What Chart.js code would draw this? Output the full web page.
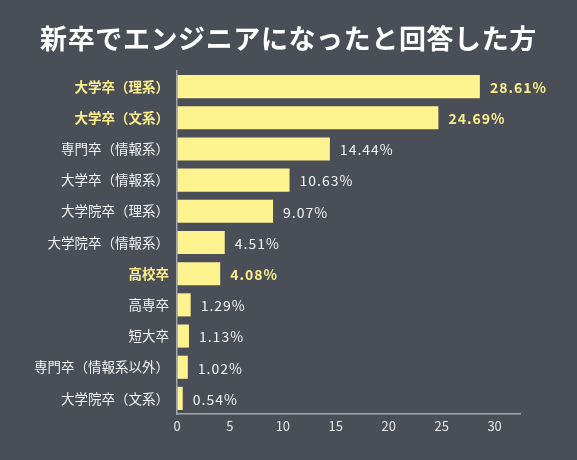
<!DOCTYPE html>
<html>
<head>
<meta charset="utf-8">
<script src="https://cdn.jsdelivr.net/npm/chart.js@4"></script>
<style>
  html, body { margin: 0; padding: 0; background: #4a4e57; }
  #wrap { width: 577px; height: 460px; }
</style>
</head>
<body>
<div id="wrap"><canvas id="chart"></canvas></div>
<script>
const labels = ['大学卒（理系）', '大学卒（文系）', '専門卒（情報系）', '大学卒（情報系）', '大学院卒（理系）',
  '大学院卒（情報系）', '高校卒', '高専卒', '短大卒', '専門卒（情報系以外）', '大学院卒（文系）'];
const values = [28.61, 24.69, 14.44, 10.63, 9.07, 4.51, 4.08, 1.29, 1.13, 1.02, 0.54];
const highlighted = [0, 1, 6];
const xTicks = [0, 5, 10, 15, 20, 25, 30];
const titleText = '新卒でエンジニアになったと回答した方';

const FONT = '"Noto Sans CJK JP", "Noto Sans", sans-serif';
const YELLOW = '#fbee8c';
const WHITE = '#f2f2f2';

const isHi = (i) => highlighted.includes(i);

// title centred on the whole canvas (the built-in one centres on the padded box)
const titlePlugin = {
  id: 'centerTitle',
  afterDraw(chart) {
    const ctx = chart.ctx;
    ctx.save();
    ctx.fillStyle = '#ffffff';
    ctx.font = 'bold 27px ' + FONT;
    ctx.letterSpacing = '0.6px';
    ctx.textAlign = 'center';
    ctx.textBaseline = 'middle';
    ctx.fillText(titleText, chart.width / 2, 39);
    ctx.restore();
  }
};

// value text to the right of each bar
const valueLabels = {
  id: 'valueLabels',
  afterDatasetsDraw(chart) {
    const ctx = chart.ctx;
    const meta = chart.getDatasetMeta(0);
    ctx.save();
    ctx.textBaseline = 'middle';
    ctx.textAlign = 'left';
    ctx.letterSpacing = '1px';
    meta.data.forEach((bar, i) => {
      const hi = isHi(i);
      ctx.fillStyle = hi ? YELLOW : WHITE;
      ctx.font = (hi ? 'bold ' : '') + '14px ' + FONT;
      ctx.fillText(values[i].toFixed(2) + '%', bar.x + 10, bar.y + 1);
    });
    ctx.restore();
  }
};

const ctx = document.getElementById('chart').getContext('2d');

const chart = new Chart(ctx, {
  type: 'bar',
  data: {
    labels: labels,
    datasets: [{
      data: values,
      backgroundColor: '#fff38f',
      borderWidth: 0,
      barPercentage: 0.74,
      categoryPercentage: 1
    }]
  },
  options: {
    indexAxis: 'y',
    responsive: true,
    maintainAspectRatio: false,
    animation: false,
    layout: {
      padding: { left: 0, right: 57, top: 71, bottom: 0 }
    },
    scales: {
      x: {
        min: 0,
        max: 32.4,
        afterBuildTicks: (scale) => {
          scale.ticks = xTicks.map(v => ({ value: v }));
        },
        afterFit: (scale) => { scale.height = 46; },
        grid: { color: 'transparent', drawTicks: false },
        border: { display: true, color: '#a3a6ad', width: 1.5 },
        ticks: {
          color: '#e6e6e6',
          padding: 4,
          font: { family: FONT, size: 13 }
        }
      },
      y: {
        afterFit: (scale) => { scale.width = 177; },
        grid: { color: 'transparent', drawTicks: false },
        border: { display: true, color: '#a3a6ad', width: 1.5 },
        ticks: {
          padding: 8,
          color: (c) => isHi(c.index) ? YELLOW : WHITE,
          font: (c) => ({ family: FONT, size: 13.5, weight: isHi(c.index) ? 'bold' : 'normal' })
        }
      }
    },
    plugins: {
      legend: { display: false },
      tooltip: { enabled: false },
      title: { display: false }
    }
  },
  plugins: [valueLabels, titlePlugin]
});
</script>
</body>
</html>
